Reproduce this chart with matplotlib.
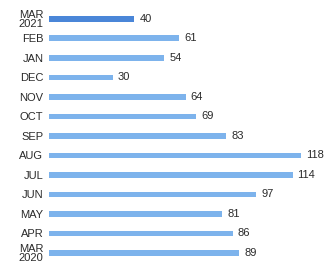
import numpy as np
import matplotlib.pyplot as plt

plt.rcParams["font.family"] = ["Liberation Sans", "DejaVu Sans"]

months = ["MAR\n2021", "FEB", "JAN", "DEC", "NOV", "OCT", "SEP", "AUG", "JUL", "JUN", "MAY", "APR", "MAR\n2020"]
values = [40, 61, 54, 30, 64, 69, 83, 118, 114, 97, 81, 86, 89]

fig = plt.figure(figsize=(3.29, 2.67), dpi=100)
ax = fig.add_axes([49 / 329, 0, 1 - 49 / 329, 1])

y = np.arange(len(months))
colors = ["#4a86d8"] + ["#7db3ec"] * (len(months) - 1)
ax.barh(y, values, height=0.3, color=colors)

for yi, v in zip(y, values):
    ax.text(v + 2.3, yi, str(v), va="center", ha="left", fontsize=8, color="#2a2a2a")

ax.set_yticks(y)
ax.set_yticklabels(months, fontsize=8, color="#2a2a2a", linespacing=0.85)
ax.tick_params(axis="y", length=0, pad=4)
ax.set_xticks([])
ax.set_xlim(0, 131)
ax.set_ylim(12.72, -0.97)
for s in ax.spines.values():
    s.set_visible(False)

fig.savefig("out.png", dpi=100)
